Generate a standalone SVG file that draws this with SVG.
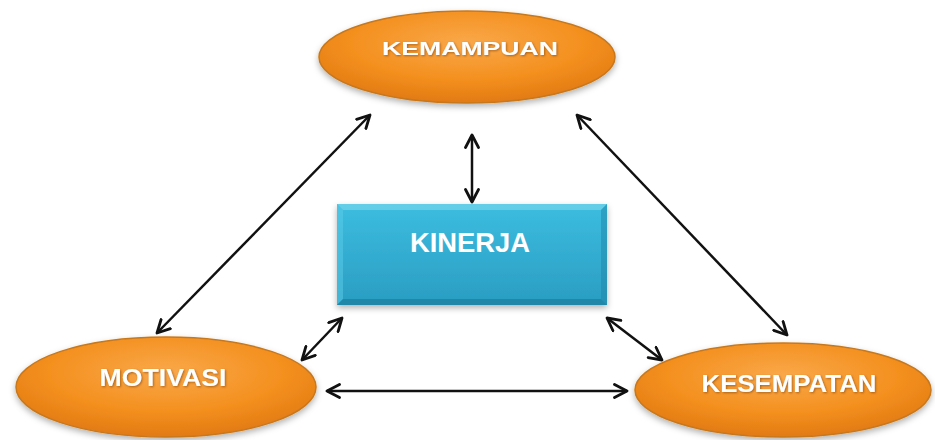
<svg xmlns="http://www.w3.org/2000/svg" width="935" height="440" viewBox="0 0 935 440">
<defs>
<radialGradient id="og" cx="0.5" cy="0.35" r="0.65">
<stop offset="0" stop-color="#f9a84a"/>
<stop offset="0.6" stop-color="#f4901f"/>
<stop offset="1" stop-color="#e27a12"/>
</radialGradient>
<linearGradient id="bg" x1="0" y1="0" x2="0" y2="1">
<stop offset="0" stop-color="#3cbde0"/>
<stop offset="1" stop-color="#2a9dc2"/>
</linearGradient>
<filter id="sh" x="-10%" y="-10%" width="120%" height="130%">
<feDropShadow dx="0" dy="3" stdDeviation="3" flood-color="#000" flood-opacity="0.3"/>
</filter>
<filter id="ts" x="-5%" y="-20%" width="110%" height="150%">
<feDropShadow dx="1" dy="1" stdDeviation="0.8" flood-color="#7a3d00" flood-opacity="0.6"/>
</filter>
<marker id="ah" viewBox="0 0 16 16" refX="14" refY="8" markerWidth="16" markerHeight="16" markerUnits="userSpaceOnUse" orient="auto-start-reverse">
<path d="M1.5,1.5 L14,8 L1.5,14.5" fill="none" stroke="#111" stroke-width="2.8" stroke-linecap="round" stroke-linejoin="round"/>
</marker>
</defs>
<style>
.ell{fill:url(#og);stroke:#c8781c;stroke-width:1.5;filter:url(#sh)}
.lbl{font-family:"Liberation Sans",Arial,sans-serif;font-weight:bold;fill:#ffffff;text-anchor:middle;filter:url(#ts)}
.con{stroke:#111;stroke-width:2.5;fill:none;marker-start:url(#ah);marker-end:url(#ah)}
</style>
<rect width="935" height="440" fill="#ffffff"/>
<g id="kemampuan">
<ellipse class="ell" cx="467" cy="57" rx="148" ry="46"/>
<text class="lbl" x="470" y="55" font-size="19" textLength="176" lengthAdjust="spacingAndGlyphs">KEMAMPUAN</text>
</g>
<g id="kinerja">
<rect x="337" y="204" width="270" height="101" fill="url(#bg)" filter="url(#sh)"/>
<path d="M337,204 H607 L601,210 H343 Z" fill="#7fd8ef" opacity="0.6"/>
<path d="M337,204 L343,210 V299 L337,305 Z" fill="#5ccbe8" opacity="0.5"/>
<path d="M607,204 L601,210 V299 L607,305 Z" fill="#1f86a8" opacity="0.5"/>
<path d="M337,305 L343,299 H601 L607,305 Z" fill="#1b7896" opacity="0.6"/>
<text class="lbl" x="470" y="252" font-size="28" textLength="120" lengthAdjust="spacingAndGlyphs" style="filter:none">KINERJA</text>
</g>
<g id="motivasi">
<ellipse class="ell" cx="166" cy="387" rx="150" ry="50"/>
<text class="lbl" x="163" y="386" font-size="24" textLength="127" lengthAdjust="spacingAndGlyphs">MOTIVASI</text>
</g>
<g id="kesempatan">
<ellipse class="ell" cx="783" cy="390" rx="148" ry="47"/>
<text class="lbl" x="789" y="392" font-size="23" textLength="175" lengthAdjust="spacingAndGlyphs">KESEMPATAN</text>
</g>
<g id="connectors">
<line class="con" x1="157" y1="333" x2="370" y2="115"/>
<line class="con" x1="577" y1="115" x2="787" y2="335"/>
<line class="con" x1="472" y1="135" x2="472" y2="202"/>
<line class="con" x1="302" y1="360" x2="342" y2="318"/>
<line class="con" x1="607" y1="318" x2="662" y2="360"/>
<line class="con" x1="327" y1="391" x2="627" y2="391"/>
</g>
</svg>
